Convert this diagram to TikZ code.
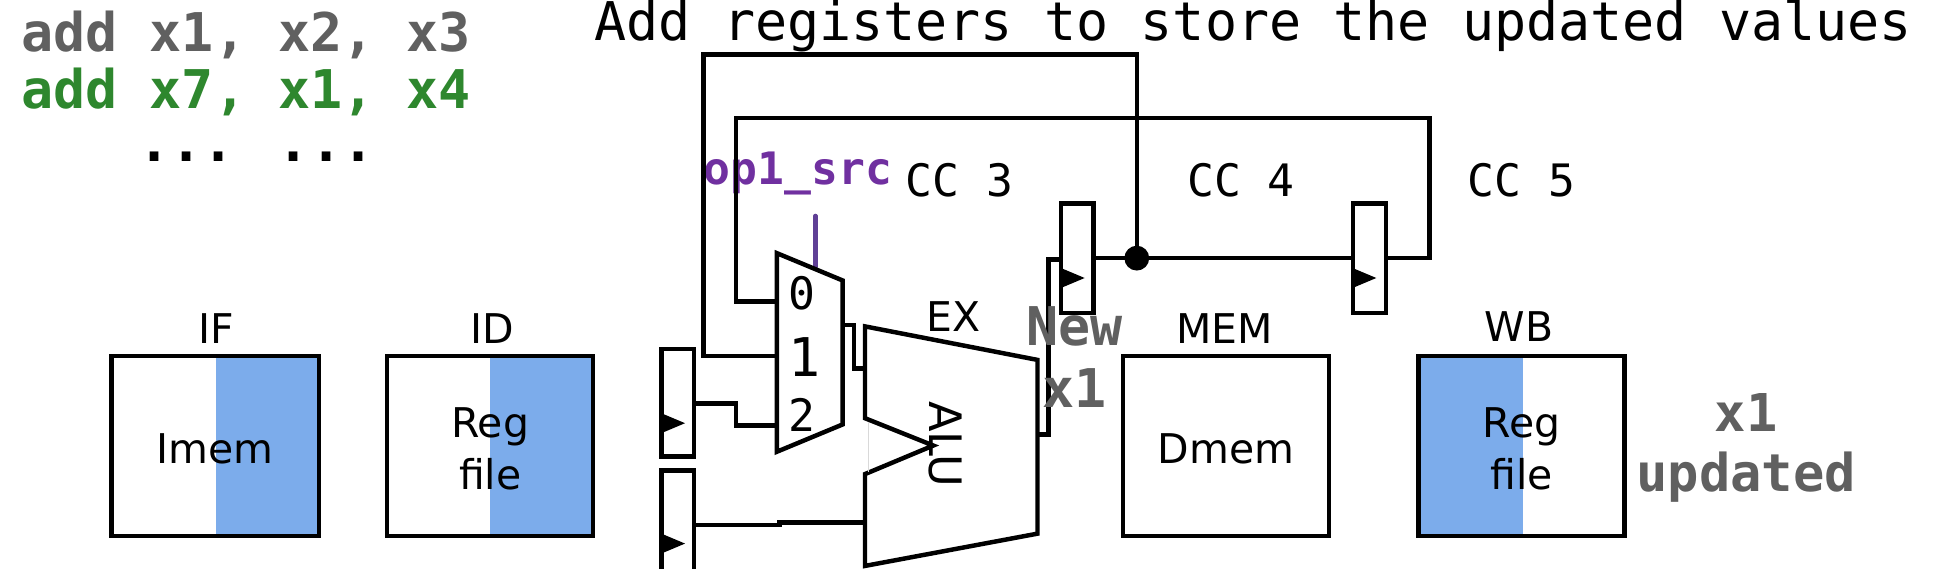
\documentclass[tikz,border=0pt]{standalone}
\usepackage{fontspec}
\setmainfont{DejaVu Sans}
\newfontfamily\dmono{DejaVu Sans Mono}
\definecolor{myblue}{RGB}{124,172,235}
\definecolor{mygreen}{RGB}{46,135,46}
\definecolor{mypurple}{RGB}{112,48,160}
\definecolor{mypline}{RGB}{96,64,150}
\begin{document}
\begin{tikzpicture}[x=1pt,y=-1pt,line width=3.6pt,
  box/.style={draw,line width=3.6pt},
  lbl/.style={font=\fontsize{33}{38}\selectfont},
  mono/.style={font=\dmono\fontsize{36}{40}\selectfont},
  big/.style={font=\dmono\bfseries\fontsize{43}{50}\selectfont,text=gray!75!black,align=center},
  tri/.style={fill=black,draw=none}]
\useasboundingbox (0,0) rectangle (1560,458);
% code text
\node[anchor=west,big] (l1) at (12,28) {add x1, x2, x3};
\node[anchor=west,big,text=mygreen] (l2) at (12,74) {add x7, x1, x4};
\node[anchor=west,big,text=black,inner sep=0pt] (l3) at (110,126) {... ...};
\node[anchor=west,font=\dmono\fontsize{43}{50}\selectfont] (title) at (474,21) {Add registers to store the updated values};
% stage boxes
\fill[myblue] (174,287) rectangle (257,432);
\draw[box] (90,287) rectangle (257,432);
\node[lbl] (imem) at (173,362) {Imem};
\node[lbl] (if) at (174,265) {IF};
\fill[myblue] (395,287) rectangle (478,432);
\draw[box] (312,287) rectangle (478,432);
\node[lbl,align=center,font=\fontsize{33}{42}\selectfont] (rf1) at (395,362) {Reg\\file};
\node[lbl] (id) at (397,265) {ID};
\draw[box] (905,287) rectangle (1071,432);
\node[lbl] (dmem) at (988,362) {Dmem};
\node[lbl] (mem) at (987,265) {MEM};
\fill[myblue] (1143,287) rectangle (1227,432);
\draw[box] (1143,287) rectangle (1309,432);
\node[lbl,align=center,font=\fontsize{33}{42}\selectfont] (rf2) at (1226,362) {Reg\\file};
\node[lbl] (wb) at (1224,263) {WB};
\node[big,font=\dmono\bfseries\fontsize{42}{48}\selectfont] (upd) at (1407,361) {x1\\updated};
% CC labels
\node[mono] (cc3) at (773,145) {CC 3};
\node[mono] (cc4) at (1000,145) {CC 4};
\node[mono] (cc5) at (1226,145) {CC 5};
\node[lbl] (ex) at (768,255) {EX};
\node[font=\dmono\bfseries\fontsize{36}{40}\selectfont,text=mypurple] (op) at (643,140) {op1\_src};
\draw[mypline,line cap=round] (657,174) -- (657,215);
% registers
\draw[box] (533,281) rectangle (559,368);
\fill[tri] (533,333) -- (552,341) -- (533,349) -- cycle;
\draw[box] (533,379) rectangle (559,470);
\fill[tri] (533,430) -- (552,438) -- (533,446) -- cycle;
\draw[box] (855,164) rectangle (881,252);
\fill[tri] (855,216) -- (874,224) -- (855,232) -- cycle;
\draw[box] (1090,164) rectangle (1117,252);
\fill[tri] (1090,216) -- (1109,224) -- (1090,232) -- cycle;
% mux
\draw[box,line join=miter] (626,204) -- (679,226) -- (679,342) -- (626,364) -- cycle;
\node[mono] (m0) at (646,236) {0};
\node[mono,font=\dmono\fontsize{43}{48}\selectfont] (m1) at (648,288) {1};
\node[mono] (m2) at (646,334) {2};
% ALU
\draw[box,line join=miter] (697,263) -- (836,290) -- (836,430) -- (697,456) -- (697,382) -- (752,359) -- (697,337) -- cycle;
\draw[gray!30,line width=1.2pt] (700,340) -- (700,380);
\node[lbl,rotate=-90,font=\fontsize{36}{40}\selectfont] (alu) at (762,358) {ALU};
% wires
\draw (626,243) -- (593,243) -- (593,95) -- (1152,95) -- (1152,208) -- (1117,208);
\draw (626,287) -- (567,287) -- (567,44) -- (916,44) -- (916,208);
\draw (881,208) -- (1090,208);
\fill (916,208) circle (10);
\draw (559,325) -- (593,325) -- (593,343) -- (626,343);
\draw (679,262) -- (688,262) -- (688,297) -- (697,297);
\draw (559,423) -- (628,423) -- (628,421) -- (697,421);
\draw (836,350) -- (845,350) -- (845,209) -- (855,209);
\node[big] (new) at (866,288) {New\\x1};
\end{tikzpicture}
\end{document}
